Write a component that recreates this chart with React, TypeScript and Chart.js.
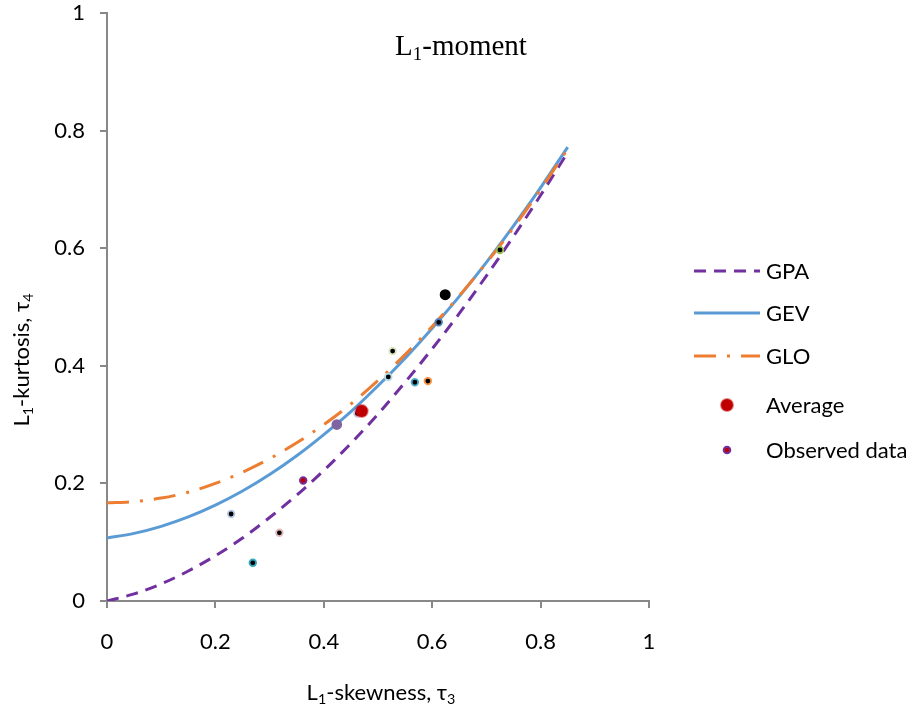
import { useEffect, useRef } from "react";
import { Chart, registerables } from "chart.js";

Chart.register(...registerables);

// L1-skewness grid used for the theoretical curves
const tau3Grid = [0, 0.05, 0.1, 0.15, 0.2, 0.25, 0.3, 0.35, 0.4, 0.45, 0.5, 0.55, 0.6, 0.65, 0.7, 0.75, 0.8, 0.85];
const gpaTau4 = [0, 0.012, 0.029, 0.051, 0.077, 0.107, 0.142, 0.18, 0.222, 0.268, 0.318, 0.372, 0.429, 0.489, 0.553, 0.62, 0.69, 0.763];
const gevTau4 = [0.107, 0.115, 0.127, 0.143, 0.163, 0.187, 0.215, 0.247, 0.283, 0.322, 0.366, 0.413, 0.464, 0.518, 0.576, 0.638, 0.703, 0.772];
const gloTau4 = [0.167, 0.169, 0.175, 0.185, 0.2, 0.219, 0.242, 0.269, 0.3, 0.335, 0.375, 0.419, 0.467, 0.519, 0.575, 0.635, 0.7, 0.769];

const averageTau3 = [0.47];
const averageTau4 = [0.323];

const observedTau3 = [0.362, 0.229, 0.318, 0.269, 0.424, 0.462, 0.519, 0.527, 0.568, 0.592, 0.612, 0.624, 0.725];
const observedTau4 = [0.205, 0.148, 0.116, 0.065, 0.3, 0.319, 0.381, 0.425, 0.372, 0.374, 0.474, 0.521, 0.597];

const axisTicks = [0, 0.2, 0.4, 0.6, 0.8, 1];

// styles (kept apart from values)
const observedRim = ["#7030A0", "#B4C7E7", "#E6B9B8", "#31A9C0", "#8064A2", "#CCC1DA", "#B7DEE8", "#D7E4BD", "#4BACC6", "#F79646", "#4F81BD", "#000000", "#9BBB59"];
const observedFill = ["#C00000", "#000", "#000", "#000", "#8064A2", "#000", "#000", "#000", "#000", "#000", "#000", "#000", "#000"];
const observedRadius = [3.3, 3.3, 3.3, 3.3, 4.4, 3.3, 3.3, 3.3, 3.3, 3.3, 3.3, 4.6, 3.3];

const SANS = "Lato, 'Noto Sans', sans-serif";
const SERIF = "'Liberation Serif', 'DejaVu Serif', serif";

type Seg = { t: string; sub?: boolean };

function drawRich(ctx: CanvasRenderingContext2D, segs: Seg[], cx: number, baseline: number, size: number, family: string) {
  const subSize = size * 0.65;
  let total = 0;
  const widths: number[] = [];
  for (const s of segs) {
    ctx.font = `${s.sub ? subSize : size}px ${family}`;
    const w = ctx.measureText(s.t).width;
    widths.push(w);
    total += w;
  }
  let x = cx - total / 2;
  ctx.textAlign = "left";
  ctx.textBaseline = "alphabetic";
  segs.forEach((s, i) => {
    ctx.font = `${s.sub ? subSize : size}px ${family}`;
    ctx.fillText(s.t, x, s.sub ? baseline + size * 0.18 : baseline);
    x += widths[i];
  });
}

const legendItems = [
  { label: "GPA", kind: "line", color: "#7030A0", dash: [12, 8] },
  { label: "GEV", kind: "line", color: "#5B9BD5", dash: [] as number[] },
  { label: "GLO", kind: "line", color: "#ED7D31", dash: [22, 11, 3, 11] },
  { label: "Average", kind: "point", color: "#C00000", rim: "rgba(192,0,0,0.45)", r: 6 },
  { label: "Observed data", kind: "point", color: "#C00000", rim: "#7030A0", r: 3.3 },
];
const legendY = [271, 313, 356, 405, 450];

const decorPlugin = {
  id: "decor",
  afterDraw(chart: any) {
    const ctx: CanvasRenderingContext2D = chart.ctx;
    ctx.save();
    ctx.fillStyle = "#000";
    // chart title inside plot
    drawRich(ctx, [{ t: "L" }, { t: "1", sub: true }, { t: "-moment" }], 461, 55, 29, SERIF);
    // x-axis title
    drawRich(ctx, [{ t: "L" }, { t: "1", sub: true }, { t: "-skewness, τ" }, { t: "3", sub: true }], 381, 700, 22, SANS);
    // y-axis title
    ctx.save();
    ctx.translate(29, 360);
    ctx.rotate(-Math.PI / 2);
    drawRich(ctx, [{ t: "L" }, { t: "1", sub: true }, { t: "-kurtosis, τ" }, { t: "4", sub: true }], 0, 0, 22, SANS);
    ctx.restore();

    // legend
    legendItems.forEach((it: any, i) => {
      const y = legendY[i];
      if (it.kind === "line") {
        ctx.save();
        ctx.strokeStyle = it.color;
        ctx.lineWidth = 3;
        ctx.setLineDash(it.dash);
        ctx.beginPath();
        ctx.moveTo(694, y);
        ctx.lineTo(760, y);
        ctx.stroke();
        ctx.restore();
      } else {
        ctx.save();
        ctx.beginPath();
        ctx.arc(727, y, it.r, 0, Math.PI * 2);
        ctx.fillStyle = it.color;
        ctx.fill();
        ctx.lineWidth = 2;
        ctx.strokeStyle = it.rim;
        ctx.stroke();
        ctx.restore();
      }
      ctx.fillStyle = "#000";
      ctx.font = `22px ${SANS}`;
      ctx.textAlign = "left";
      ctx.textBaseline = "middle";
      ctx.fillText(it.label, 766, y + 1);
    });
    ctx.restore();
  },
};

export default function App() {
  const ref = useRef<HTMLCanvasElement | null>(null);
  useEffect(() => {
    if (!ref.current) return;
    const curve = (ys: number[]) => tau3Grid.map((x, i) => ({ x, y: ys[i] }));
    const chart = new Chart(ref.current, {
      type: "scatter",
      data: {
        datasets: [
          {
            label: "Average",
            data: averageTau3.map((x, i) => ({ x, y: averageTau4[i] })),
            backgroundColor: "#C00000",
            borderColor: "rgba(192,0,0,0.45)",
            borderWidth: 2,
            pointRadius: 6,
            order: 0,
          },
          {
            label: "Observed data",
            data: observedTau3.map((x, i) => ({ x, y: observedTau4[i] })),
            backgroundColor: observedFill,
            borderColor: observedRim,
            borderWidth: 1.8,
            pointRadius: observedRadius,
            order: 1,
          },
          {
            label: "GLO",
            data: curve(gloTau4),
            showLine: true,
            borderColor: "#ED7D31",
            borderWidth: 3,
            borderDash: [22, 11, 3, 11],
            pointRadius: 0,
            cubicInterpolationMode: "monotone",
            order: 2,
          },
          {
            label: "GEV",
            data: curve(gevTau4),
            showLine: true,
            borderColor: "#5B9BD5",
            borderWidth: 3,
            pointRadius: 0,
            cubicInterpolationMode: "monotone",
            order: 3,
          },
          {
            label: "GPA",
            data: curve(gpaTau4),
            showLine: true,
            borderColor: "#7030A0",
            borderWidth: 3,
            borderDash: [12, 8],
            pointRadius: 0,
            cubicInterpolationMode: "monotone",
            order: 4,
          },
        ] as any,
      },
      options: {
        animation: false,
        responsive: true,
        maintainAspectRatio: false,
        layout: { padding: { left: 0, top: 0, right: 271, bottom: 0 } },
        plugins: { legend: { display: false }, tooltip: { enabled: false }, title: { display: false } },
        scales: {
          x: {
            type: "linear",
            min: 0,
            max: 1,
            afterBuildTicks: (s: any) => { s.ticks = axisTicks.map((v) => ({ value: v })); },
            afterFit: (s: any) => { s.height = 114; s.paddingLeft = 0; s.paddingRight = 0; },
            ticks: { color: "#000", font: { family: SANS, size: 22 }, padding: 21, callback: (v: any) => String(v) },
            grid: { display: true, drawOnChartArea: false, drawTicks: true, tickLength: 7, color: "#888", lineWidth: 2 },
            border: { display: true, color: "#888", width: 2 },
          },
          y: {
            type: "linear",
            min: 0,
            max: 1,
            afterBuildTicks: (s: any) => { s.ticks = axisTicks.map((v) => ({ value: v })); },
            afterFit: (s: any) => { s.width = 107; s.paddingTop = 13; s.paddingBottom = 0; },
            ticks: { color: "#000", font: { family: SANS, size: 22 }, padding: 15, callback: (v: any) => String(v) },
            grid: { display: true, drawOnChartArea: false, drawTicks: true, tickLength: 7, color: "#888", lineWidth: 2 },
            border: { display: true, color: "#888", width: 2 },
          },
        },
      },
      plugins: [decorPlugin],
    });
    return () => chart.destroy();
  }, []);
  return (
    <div style={{ position: "absolute", left: 0, top: 0, width: 920, height: 715, background: "#fff" }}>
      <canvas ref={ref} />
    </div>
  );
}
